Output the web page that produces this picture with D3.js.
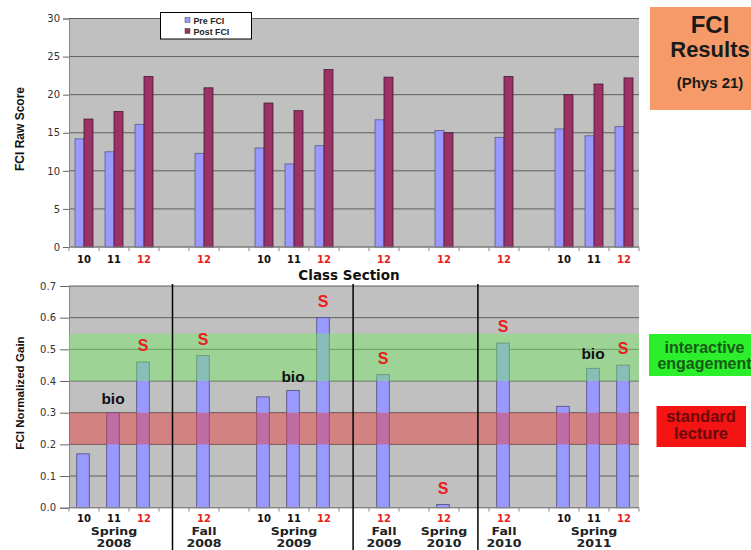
<!DOCTYPE html>
<html><head><meta charset="utf-8">
<script src="https://cdn.jsdelivr.net/npm/d3@7"></script>
<style>body{margin:0;background:#fff;} svg{display:block}</style>
</head><body><svg id="c" width="751" height="550"></svg>
<script>
// ---------- data ----------
const sections = ["10","11","12","","12","","10","11","12","","12","","12","","12","","10","11","12"];
const preFCI  = [14.2,12.5,16.1,null,12.3,null,13.0,10.9,13.3,null,16.7,null,15.3,null,14.4,null,15.5,14.6,15.8];
const postFCI = [16.8,17.8,22.4,null,20.9,null,18.9,17.9,23.3,null,22.3,null,15.0,null,22.4,null,20.0,21.4,22.2];
const gain    = [0.17,0.30,0.46,null,0.48,null,0.35,0.37,0.60,null,0.42,null,0.01,null,0.52,null,0.32,0.44,0.45];
const gainNote= ["","bio","S","","S","","","bio","S","","S","","S","","S","","","bio","S"];
const termSeason = ["Spring","Fall","Spring","Fall","Spring","Fall","Spring"];
const termYear   = ["2008","2008","2009","2009","2010","2010","2011"];
const termAt     = [1,4,7,10,12,14,17];
const termBreaks = [3.45,9.47,13.63];
const rawTicks  = [0,5,10,15,20,25,30];
const gainTicks = [0,0.1,0.2,0.3,0.4,0.5,0.6,0.7];
const bands = [{lo:0.4,hi:0.55,name:"interactive engagement"},{lo:0.2,hi:0.3,name:"standard lecture"}];
const seriesNames = ["Pre FCI","Post FCI"];

// ---------- setup ----------
const svg = d3.select("#c");
const L = 69, R = 639;
const idx = d3.range(sections.length);
const x = d3.scaleBand().domain(idx).range([L, R]).padding(0);
const xLin = d3.scaleLinear().domain([0, sections.length]).range([L, R]);
const xs = d3.scaleBand().domain(["pre","post"]).range([0, x.bandwidth()]).paddingInner(0).paddingOuter(0.667);
const yTop = d3.scaleLinear().domain([0,30]).range([247, 18.5]);
const yBot = d3.scaleLinear().domain([0,0.7]).range([507.7, 286]);
const bg = "#c0c0c0", grid = "#5e5e5e";
const preCol = "#9999ff", postCol = "#993366";
const red = "#e8201c";

// ---------- top chart ----------
const gT = svg.append("g");
gT.append("rect").attr("x",L).attr("y",yTop(30)).attr("width",R-L).attr("height",yTop(0)-yTop(30)).attr("fill",bg);
gT.selectAll("line.g").data(rawTicks).join("line")
  .attr("x1",L).attr("x2",R).attr("y1",d=>yTop(d)).attr("y2",d=>yTop(d))
  .attr("stroke",grid).attr("stroke-width",1);
const axT = gT.append("g").attr("transform",`translate(${L},0)`)
  .call(d3.axisLeft(yTop).tickValues(rawTicks).tickSize(6).tickPadding(3));
axT.select(".domain").attr("stroke","#888");
axT.selectAll(".tick line").attr("stroke","#666");
axT.selectAll("text").attr("font-family","DejaVu Sans").attr("font-size",10).attr("fill","#333");

gT.selectAll("rect.pre").data(idx.filter(i=>preFCI[i]!=null)).join("rect")
  .attr("x",i=>x(i)+xs("pre")).attr("width",xs.bandwidth())
  .attr("y",i=>yTop(preFCI[i])).attr("height",i=>yTop(0)-yTop(preFCI[i]))
  .attr("fill",preCol).attr("stroke","#5a5a8a").attr("stroke-width",0.8);
gT.selectAll("rect.post").data(idx.filter(i=>postFCI[i]!=null)).join("rect")
  .attr("x",i=>x(i)+xs("post")).attr("width",xs.bandwidth())
  .attr("y",i=>yTop(postFCI[i])).attr("height",i=>yTop(0)-yTop(postFCI[i]))
  .attr("fill",postCol).attr("stroke","#4a1830").attr("stroke-width",0.8);

// x ticks top
gT.selectAll("line.xt").data(d3.range(sections.length+1)).join("line")
  .attr("x1",i=>xLin(i)).attr("x2",i=>xLin(i)).attr("y1",yTop(0)).attr("y2",yTop(0)+4)
  .attr("stroke","#888");
gT.append("line").attr("x1",L).attr("x2",R).attr("y1",yTop(0)).attr("y2",yTop(0)).attr("stroke","#888");
gT.selectAll("text.sec").data(idx.filter(i=>sections[i])).join("text")
  .attr("x",i=>x(i)+x.bandwidth()/2).attr("y",263)
  .attr("text-anchor","middle").attr("font-family","DejaVu Sans").attr("font-weight","bold")
  .attr("font-size",10).attr("fill",i=>sections[i]==="12"?red:"#111").text(i=>sections[i]);
gT.append("text").attr("x",349).attr("y",280).attr("text-anchor","middle")
  .attr("font-family","DejaVu Sans").attr("font-weight","bold").attr("font-size",13.5).attr("fill","#111")
  .text("Class Section");
gT.append("text").attr("transform","translate(23.5,129) rotate(-90)").attr("text-anchor","middle")
  .attr("font-family","Liberation Sans").attr("font-weight","bold").attr("font-size",12).attr("fill","#111")
  .text("FCI Raw Score");

// legend
const lg = gT.append("g");
lg.append("rect").attr("x",160.5).attr("y",12.5).attr("width",91).attr("height",26.5).attr("fill","#fff").attr("stroke","#000");
seriesNames.forEach((n,k)=>{
  lg.append("rect").attr("x",185).attr("y",17.5+k*11).attr("width",5).attr("height",5)
    .attr("fill",k?postCol:preCol).attr("stroke","#444").attr("stroke-width",0.5);
  lg.append("text").attr("x",193.5).attr("y",23.5+k*11).attr("font-family","Liberation Sans")
    .attr("font-weight","bold").attr("font-size",8.8).attr("fill","#222").text(n);
});

// ---------- bottom chart ----------
const gB = svg.append("g");
gB.append("rect").attr("x",L).attr("y",yBot(0.7)).attr("width",R-L).attr("height",yBot(0)-yBot(0.7)).attr("fill",bg);
gB.selectAll("line.g").data(gainTicks).join("line")
  .attr("x1",L).attr("x2",R).attr("y1",d=>yBot(d)).attr("y2",d=>yBot(d))
  .attr("stroke",grid).attr("stroke-width",1);
const axB = gB.append("g").attr("transform",`translate(${L},0)`)
  .call(d3.axisLeft(yBot).tickValues(gainTicks).tickFormat(d3.format(".1f")).tickSize(9).tickPadding(4));
axB.select(".domain").attr("stroke","#888");
axB.selectAll(".tick line").attr("stroke","#666");
axB.selectAll("text").attr("font-family","DejaVu Sans").attr("font-size",10).attr("fill","#333");

const bw = x.bandwidth()*0.42;
gB.selectAll("rect.gain").data(idx.filter(i=>gain[i]!=null)).join("rect")
  .attr("x",i=>x(i)+x.bandwidth()/2-bw/2-1).attr("width",bw)
  .attr("y",i=>yBot(gain[i])).attr("height",i=>yBot(0)-yBot(gain[i]))
  .attr("fill",preCol).attr("stroke","#555580").attr("stroke-width",0.9);

// bands overlay
gB.selectAll("rect.band").data(bands).join("rect")
  .attr("x",L).attr("width",R-L).attr("y",d=>yBot(d.hi)).attr("height",d=>yBot(d.lo)-yBot(d.hi))
  .attr("fill",(d,k)=>k?"rgb(235,55,55)":"rgb(115,235,95)").attr("fill-opacity",0.45);

// notes
gB.selectAll("text.note").data(idx.filter(i=>gainNote[i])).join("text")
  .attr("x",i=>x(i)+x.bandwidth()/2-1)
  .attr("y",i=>yBot(gain[i]) - (gainNote[i]==="S"?11:9))
  .attr("text-anchor","middle").attr("font-family","Liberation Sans").attr("font-weight","bold")
  .attr("font-size",i=>gainNote[i]==="S"?16:15.5)
  .attr("fill",i=>gainNote[i]==="S"?red:"#111").text(i=>gainNote[i]);

// x ticks bottom
gB.append("line").attr("x1",L).attr("x2",R).attr("y1",yBot(0)).attr("y2",yBot(0)).attr("stroke","#888");
gB.selectAll("line.xt").data(d3.range(sections.length+1)).join("line")
  .attr("x1",i=>xLin(i)).attr("x2",i=>xLin(i)).attr("y1",yBot(0)).attr("y2",yBot(0)+4)
  .attr("stroke","#888");
gB.selectAll("text.sec").data(idx.filter(i=>sections[i])).join("text")
  .attr("x",i=>x(i)+x.bandwidth()/2).attr("y",521.5)
  .attr("text-anchor","middle").attr("font-family","DejaVu Sans").attr("font-weight","bold")
  .attr("font-size",10).attr("fill",i=>sections[i]==="12"?red:"#111").text(i=>sections[i]);
termSeason.forEach((s,k)=>{
  const cx = x(termAt[k]) + x.bandwidth()/2;
  gB.append("text").attr("transform",`translate(${cx},535) scale(1.2,1)`).attr("text-anchor","middle")
    .attr("font-family","DejaVu Sans").attr("font-weight","bold").attr("font-size",10.5).attr("fill","#222").text(s);
  gB.append("text").attr("transform",`translate(${cx},547) scale(1.2,1)`).attr("text-anchor","middle")
    .attr("font-family","DejaVu Sans").attr("font-weight","bold").attr("font-size",10.5).attr("fill","#222").text(termYear[k]);
});
// term separators
gB.selectAll("line.sep").data(termBreaks).join("line")
  .attr("x1",d=>xLin(d)).attr("x2",d=>xLin(d)).attr("y1",yBot(0.7)-2).attr("y2",550)
  .attr("stroke","#000").attr("stroke-width",1.5);
gB.append("text").attr("transform","translate(23.5,393) rotate(-90)").attr("text-anchor","middle")
  .attr("font-family","Liberation Sans").attr("font-weight","bold").attr("font-size",11.6).attr("fill","#111")
  .text("FCI Normalized Gain");

// ---------- right side boxes ----------
const side = svg.append("g");
side.append("rect").attr("x",650).attr("y",7).attr("width",110).attr("height",103).attr("fill","#f59a68");
[["FCI",33,24],["Results",57,22],["(Phys 21)",88,15]].forEach(([t,y,fs])=>{
  side.append("text").attr("x",710).attr("y",y).attr("text-anchor","middle")
    .attr("font-family","Liberation Sans").attr("font-weight","bold").attr("font-size",fs).attr("fill","#1a1a1a").text(t);
});
side.append("rect").attr("x",649).attr("y",334).attr("width",110).attr("height",42).attr("fill","#2bef2b");
side.append("text").attr("x",704.5).attr("y",353).attr("text-anchor","middle").attr("font-family","Liberation Sans")
  .attr("font-weight","bold").attr("font-size",16).attr("fill","#165c16").text("interactive");
side.append("text").attr("x",704.5).attr("y",368.5).attr("text-anchor","middle").attr("font-family","Liberation Sans")
  .attr("font-weight","bold").attr("font-size",16).attr("fill","#165c16").text("engagement");
side.append("rect").attr("x",656.5).attr("y",406).attr("width",89.5).attr("height",41).attr("fill","#f41414");
side.append("text").attr("x",701).attr("y",422).attr("text-anchor","middle").attr("font-family","Liberation Sans")
  .attr("font-weight","bold").attr("font-size",16.5).attr("fill","#6a0a0a").text("standard");
side.append("text").attr("x",701).attr("y",438.5).attr("text-anchor","middle").attr("font-family","Liberation Sans")
  .attr("font-weight","bold").attr("font-size",16.5).attr("fill","#6a0a0a").text("lecture");
</script></body></html>
